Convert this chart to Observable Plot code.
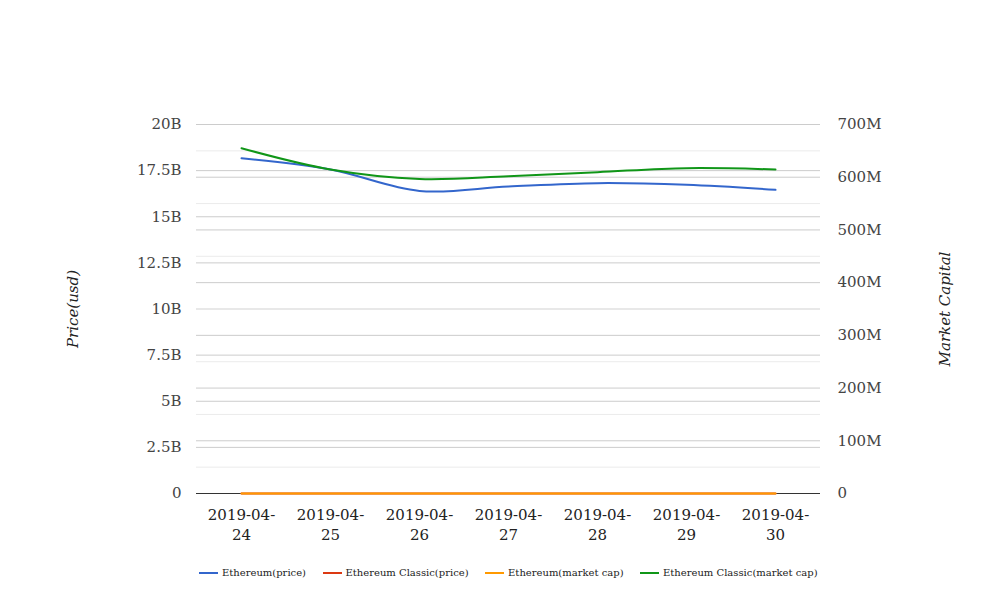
<!DOCTYPE html>
<html>
<head>
<meta charset="utf-8">
<script src="https://cdn.jsdelivr.net/npm/d3@7"></script>
<script src="https://cdn.jsdelivr.net/npm/@observablehq/plot@0.6"></script>
<style>
  body { margin: 0; background: #fff; }
  #wrap { position: relative; width: 1008px; height: 616px; }
  #legend { position: absolute; left: 199px; top: 567px; display: flex; align-items: center;
            font-family: "DejaVu Serif", serif; font-size: 10px; color: #222; white-space: nowrap; }
  #legend .item { display: flex; align-items: center; margin-right: 16.5px; }
  #legend .sw { width: 19px; height: 2px; margin-right: 4px; }
</style>
</head>
<body>
<div id="wrap"><div id="legend"></div></div>
<script>
// ---- data ----
const dates = ["2019-04-24","2019-04-25","2019-04-26","2019-04-27","2019-04-28","2019-04-29","2019-04-30"];
const seriesNames = ["Ethereum(price)","Ethereum Classic(price)","Ethereum(market cap)","Ethereum Classic(market cap)"];
const ethPrice = [18.17e9, 17.56e9, 16.40e9, 16.64e9, 16.82e9, 16.73e9, 16.46e9];   // left axis
const etcPrice = [0, 0, 0, 0, 0, 0, 0];                                            // left axis
const ethCap   = [0, 0, 0, 0, 0, 0, 0];                                            // right axis
const etcCap   = [655e6, 614.7e6, 596.7e6, 602e6, 609.6e6, 617.2e6, 614.7e6];       // right axis
const leftTicks  = [0, 2.5e9, 5e9, 7.5e9, 10e9, 12.5e9, 15e9, 17.5e9, 20e9];
const rightTicks = [0, 100e6, 200e6, 300e6, 400e6, 500e6, 600e6, 700e6];
const rightMinor = [50e6, 150e6, 250e6, 350e6, 450e6, 550e6, 650e6];
const colors = ["#3366cc", "#dc3912", "#ff9900", "#109618"];

// ---- build ----
const leftMax = 20e9, rightMax = 700e6, k = leftMax / rightMax;
const seriesDefs = [
  {name: seriesNames[0], axis: "left",  values: ethPrice},
  {name: seriesNames[1], axis: "left",  values: etcPrice},
  {name: seriesNames[2], axis: "right", values: ethCap},
  {name: seriesNames[3], axis: "right", values: etcCap}
];
const rows = seriesDefs.flatMap(s => s.values.map((v, i) => ({
  date: dates[i], series: s.name, y: s.axis === "right" ? v * k : v
})));

const fmtLeft = d => d === 0 ? "0" : (d / 1e9) + "B";
const fmtRight = d => { const v = Math.round(d / k / 1e6); return v === 0 ? "0" : v + "M"; };

const chart = Plot.plot({
  width: 1008, height: 616,
  marginTop: 124, marginBottom: 123, marginLeft: 196, marginRight: 188,
  style: {fontFamily: "DejaVu Serif, serif", fontSize: "15px", color: "#444", background: "transparent"},
  x: {type: "point", domain: dates, padding: 0.5},
  y: {domain: [0, leftMax]},
  color: {domain: seriesNames, range: colors},
  marks: [
    Plot.ruleY(leftTicks.filter(d => d > 0), {stroke: "#cccccc", strokeWidth: 1}),
    Plot.ruleY(rightTicks.filter(d => d > 0).map(d => d * k), {stroke: "#cccccc", strokeWidth: 1}),
    Plot.ruleY(rightMinor.map(d => d * k), {stroke: "#ebebeb", strokeWidth: 1}),
    Plot.ruleY([0], {stroke: "#333333", strokeWidth: 1}),
    Plot.axisY(leftTicks, {anchor: "left", tickSize: 0, tickPadding: 15, tickFormat: fmtLeft, fill: "#444", label: null}),
    Plot.axisY(rightTicks.map(d => d * k), {anchor: "right", tickSize: 0, tickPadding: 17, tickFormat: fmtRight, fill: "#444", label: null}),
    Plot.axisX({tickSize: 0, tickPadding: 12, lineHeight: 1.33, fill: "#222",
                tickFormat: d => d.slice(0, 8) + "\n" + d.slice(8), label: null}),
    Plot.line(rows, {x: "date", y: "y", z: "series", stroke: "series", strokeWidth: 2, curve: "catmull-rom"}),
    Plot.text(["Price(usd)"], {frameAnchor: "left", dx: -123, rotate: -90, textAnchor: "middle", fontStyle: "italic", fill: "#222", fontSize: 15}),
    Plot.text(["Market Capital"], {frameAnchor: "right", dx: 125, rotate: -90, textAnchor: "middle", fontStyle: "italic", fill: "#222", fontSize: 15})
  ]
});
const wrap = document.getElementById("wrap");
wrap.insertBefore(chart, wrap.firstChild);

const legend = document.getElementById("legend");
seriesNames.forEach((n, i) => {
  const it = document.createElement("div");
  it.className = "item";
  it.innerHTML = `<span class="sw" style="background:${colors[i]}"></span><span>${n}</span>`;
  legend.appendChild(it);
});
</script>
</body>
</html>
